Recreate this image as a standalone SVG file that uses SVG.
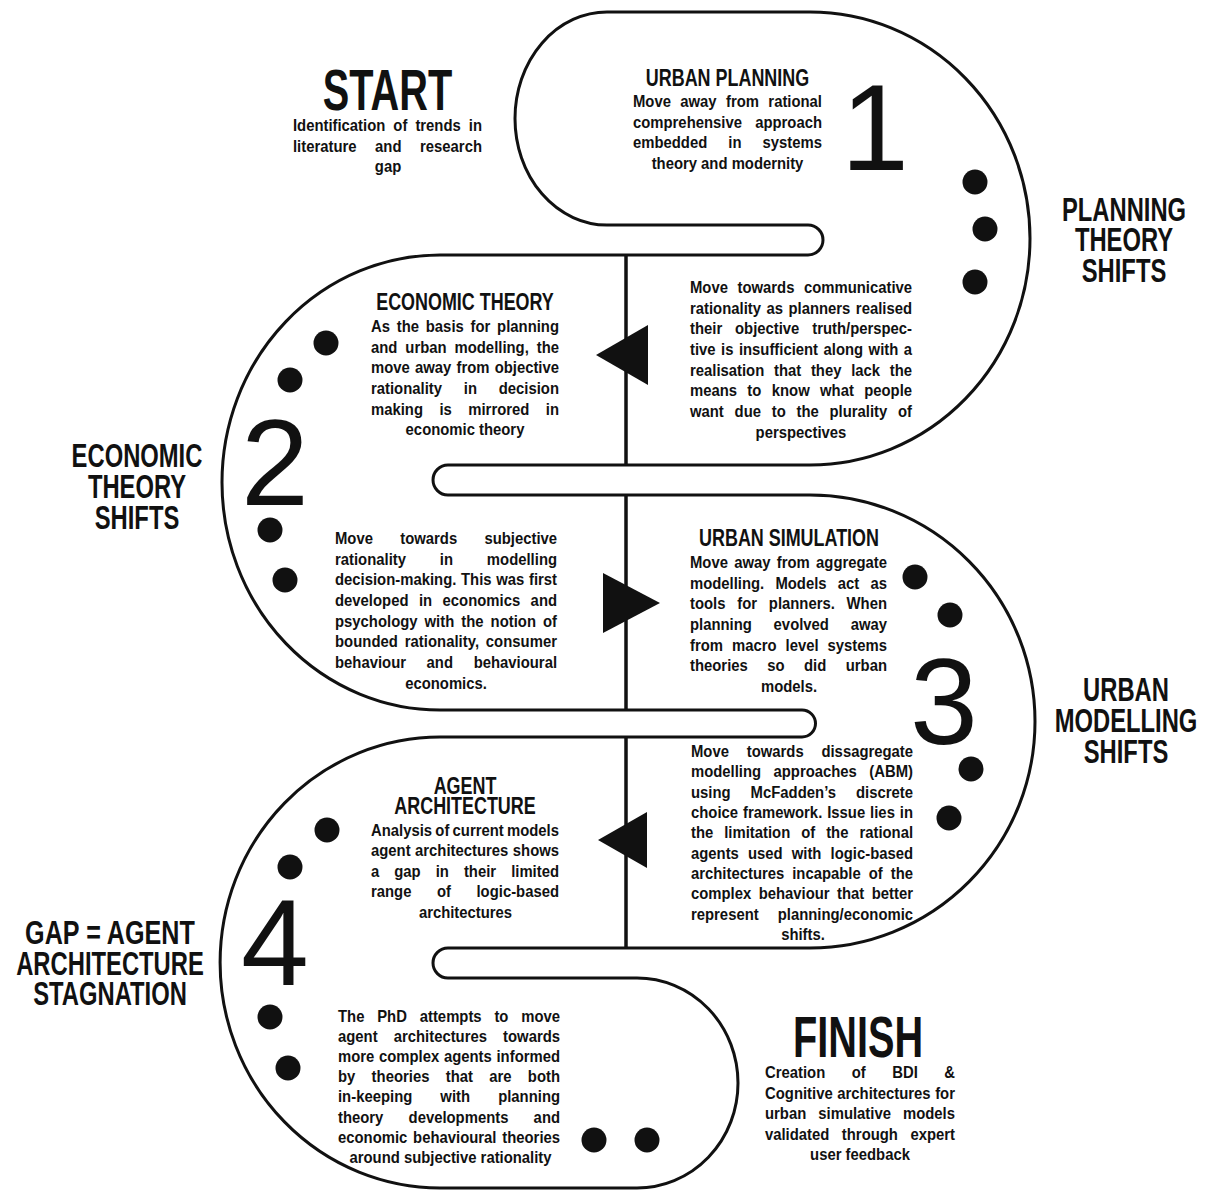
<svg xmlns="http://www.w3.org/2000/svg" width="1207" height="1192" viewBox="0 0 1207 1192">
<style>
text{font-family:"Liberation Sans",Arial,sans-serif;fill:#111;}
.b{font-size:16.5px;font-weight:bold;}
.h{font-size:23px;font-weight:bold;text-anchor:middle;}
.big{font-size:58px;font-weight:bold;text-anchor:middle;}
.lab{font-size:34px;font-weight:bold;text-anchor:middle;}
.num{font-size:122px;font-weight:normal;text-anchor:middle;}
.c{text-anchor:middle;}
.track{fill:none;stroke:#111;stroke-width:3;stroke-linejoin:round;}
.spine{stroke:#111;stroke-width:3.5;fill:none;}
.tri{fill:#111;}
.dot{fill:#111;}
</style>
<rect width="1207" height="1192" fill="#fff"/>
<g id="track">
<path class="track" d="M607,225 L808,225 A15,15 0 0 1 808,255 L440,255 A218,227.5 0 0 0 440,710 L802,710 A13.5,13.5 0 0 1 802,737 L440,737 A220,225.5 0 0 0 440,1188 L637,1188 A101,105 0 0 0 637,978 L448,978 A15,15 0 0 1 448,948 L810,948 A225,226.5 0 0 0 810,495 L448,495 A15,15 0 0 1 448,465 L810,465 A220,226.5 0 0 0 810,12 L607,12 A92,106.5 0 0 0 607,225 Z"/>
</g>
<g id="connectors">
<line class="spine" x1="626" y1="255" x2="626" y2="465"/>
<line class="spine" x1="626" y1="495" x2="626" y2="710"/>
<line class="spine" x1="626" y1="737" x2="626" y2="948"/>
<polygon class="tri" points="596,355 648,325 648,385"/>
<polygon class="tri" points="660,603 603,573 603,633"/>
<polygon class="tri" points="598,840 647,812 647,868"/>
</g>
<g id="start">
<text class="big" transform="translate(387.5 110) scale(.685 1)">START</text>
<text class="b" transform="translate(293 131) scale(.9 1)" textLength="210" lengthAdjust="spacing" word-spacing="4.4">Identification of trends in</text>
<text class="b" transform="translate(293 152) scale(.9 1)" textLength="210" lengthAdjust="spacing" word-spacing="16">literature and research</text>
<text class="b c" transform="translate(388 172) scale(.9 1)">gap</text>
</g>
<g id="urban-planning">
<text class="h" transform="translate(727.5 86) scale(.78 1)">URBAN PLANNING</text>
<text class="b" transform="translate(633 107) scale(.9 1)" textLength="210" lengthAdjust="spacing" word-spacing="5.8">Move away from rational</text>
<text class="b" transform="translate(633 128) scale(.9 1)" textLength="210" lengthAdjust="spacing" word-spacing="10.1">comprehensive approach</text>
<text class="b" transform="translate(633 148) scale(.9 1)" textLength="210" lengthAdjust="spacing" word-spacing="18.8">embedded in systems</text>
<text class="b c" transform="translate(727.5 169) scale(.9 1)">theory and modernity</text>
<text class="num" x="875" y="170" font-size="130">1</text>
<circle class="dot" cx="975" cy="182" r="12.5"/>
<circle class="dot" cx="985" cy="229" r="12.5"/>
<circle class="dot" cx="975" cy="282" r="12.5"/>
</g>
<g id="communicative">
<text class="b" transform="translate(690 293) scale(.9 1)" textLength="246.7" lengthAdjust="spacing" word-spacing="6">Move towards communicative</text>
<text class="b" transform="translate(690 314) scale(.9 1)" textLength="246.7" lengthAdjust="spacing" word-spacing="1.5">rationality as planners realised</text>
<text class="b" transform="translate(690 334) scale(.9 1)" textLength="246.7" lengthAdjust="spacing" word-spacing="9.7">their objective truth/perspec-</text>
<text class="b" transform="translate(690 355) scale(.9 1)" textLength="246.7" lengthAdjust="spacing" word-spacing="1.5">tive is insufficient along with a</text>
<text class="b" transform="translate(690 376) scale(.9 1)" textLength="246.7" lengthAdjust="spacing" word-spacing="6.2">realisation that they lack the</text>
<text class="b" transform="translate(690 396) scale(.9 1)" textLength="246.7" lengthAdjust="spacing" word-spacing="6.9">means to know what people</text>
<text class="b" transform="translate(690 417) scale(.9 1)" textLength="246.7" lengthAdjust="spacing" word-spacing="7.4">want due to the plurality of</text>
<text class="b c" transform="translate(801 438) scale(.9 1)">perspectives</text>
</g>
<g id="planning-theory-shifts">
<text class="lab" transform="translate(1124 221) scale(.7 1)">PLANNING</text>
<text class="lab" transform="translate(1124 251) scale(.7 1)">THEORY</text>
<text class="lab" transform="translate(1124 282) scale(.7 1)">SHIFTS</text>
</g>
<g id="economic-theory">
<text class="h" transform="translate(465 310) scale(.78 1)">ECONOMIC THEORY</text>
<text class="b" transform="translate(371 332) scale(.9 1)" textLength="208.9" lengthAdjust="spacing" word-spacing="2.9">As the basis for planning</text>
<text class="b" transform="translate(371 353) scale(.9 1)" textLength="208.9" lengthAdjust="spacing" word-spacing="4.2">and urban modelling, the</text>
<text class="b" transform="translate(371 373) scale(.9 1)" textLength="208.9" lengthAdjust="spacing" word-spacing="1.2">move away from objective</text>
<text class="b" transform="translate(371 394) scale(.9 1)" textLength="208.9" lengthAdjust="spacing" word-spacing="19.6">rationality in decision</text>
<text class="b" transform="translate(371 415) scale(.9 1)" textLength="208.9" lengthAdjust="spacing" word-spacing="13.7">making is mirrored in</text>
<text class="b c" transform="translate(465 435) scale(.9 1)">economic theory</text>
<circle class="dot" cx="326" cy="343" r="12.5"/>
<circle class="dot" cx="290" cy="380" r="12.5"/>
<text class="num" x="275" y="505">2</text>
<circle class="dot" cx="270" cy="530" r="12.5"/>
<circle class="dot" cx="285" cy="580" r="12.5"/>
</g>
<g id="subjective">
<text class="b" transform="translate(335 544) scale(.9 1)" textLength="246.7" lengthAdjust="spacing" word-spacing="25.7">Move towards subjective</text>
<text class="b" transform="translate(335 565) scale(.9 1)" textLength="246.7" lengthAdjust="spacing" word-spacing="33">rationality in modelling</text>
<text class="b" transform="translate(335 585) scale(.9 1)" textLength="246.7" lengthAdjust="spacing" word-spacing="0.6">decision-making. This was first</text>
<text class="b" transform="translate(335 606) scale(.9 1)" textLength="246.7" lengthAdjust="spacing" word-spacing="7">developed in economics and</text>
<text class="b" transform="translate(335 627) scale(.9 1)" textLength="246.7" lengthAdjust="spacing" word-spacing="3.2">psychology with the notion of</text>
<text class="b" transform="translate(335 647) scale(.9 1)" textLength="246.7" lengthAdjust="spacing" word-spacing="2.8">bounded rationality, consumer</text>
<text class="b" transform="translate(335 668) scale(.9 1)" textLength="246.7" lengthAdjust="spacing" word-spacing="18.3">behaviour and behavioural</text>
<text class="b c" transform="translate(446 689) scale(.9 1)">economics.</text>
</g>
<g id="economic-theory-shifts">
<text class="lab" transform="translate(137 467) scale(.7 1)">ECONOMIC</text>
<text class="lab" transform="translate(137 498) scale(.7 1)">THEORY</text>
<text class="lab" transform="translate(137 529) scale(.7 1)">SHIFTS</text>
</g>
<g id="urban-simulation">
<text class="h" transform="translate(789 546) scale(.78 1)">URBAN SIMULATION</text>
<text class="b" transform="translate(690 568) scale(.9 1)" textLength="218.9" lengthAdjust="spacing" word-spacing="2.4">Move away from aggregate</text>
<text class="b" transform="translate(690 589) scale(.9 1)" textLength="218.9" lengthAdjust="spacing" word-spacing="7.9">modelling. Models act as</text>
<text class="b" transform="translate(690 609) scale(.9 1)" textLength="218.9" lengthAdjust="spacing" word-spacing="8.5">tools for planners. When</text>
<text class="b" transform="translate(690 630) scale(.9 1)" textLength="218.9" lengthAdjust="spacing" word-spacing="19.6">planning evolved away</text>
<text class="b" transform="translate(690 651) scale(.9 1)" textLength="218.9" lengthAdjust="spacing" word-spacing="5.4">from macro level systems</text>
<text class="b" transform="translate(690 671) scale(.9 1)" textLength="218.9" lengthAdjust="spacing" word-spacing="17">theories so did urban</text>
<text class="b c" transform="translate(789 692) scale(.9 1)">models.</text>
<circle class="dot" cx="915" cy="577" r="12.5"/>
<circle class="dot" cx="950" cy="615" r="12.5"/>
<text class="num" x="944" y="744">3</text>
<circle class="dot" cx="971" cy="769" r="12.5"/>
<circle class="dot" cx="949" cy="818" r="12.5"/>
</g>
<g id="disaggregate">
<text class="b" transform="translate(691 757) scale(.9 1)" textLength="246.7" lengthAdjust="spacing" word-spacing="15.2">Move towards dissagregate</text>
<text class="b" transform="translate(691 777) scale(.9 1)" textLength="246.7" lengthAdjust="spacing" word-spacing="9.2">modelling approaches (ABM)</text>
<text class="b" transform="translate(691 798) scale(.9 1)" textLength="246.7" lengthAdjust="spacing" word-spacing="17.5">using McFadden’s discrete</text>
<text class="b" transform="translate(691 818) scale(.9 1)" textLength="246.7" lengthAdjust="spacing" word-spacing="0.9">choice framework. Issue lies in</text>
<text class="b" transform="translate(691 838) scale(.9 1)" textLength="246.7" lengthAdjust="spacing" word-spacing="7.6">the limitation of the rational</text>
<text class="b" transform="translate(691 859) scale(.9 1)" textLength="246.7" lengthAdjust="spacing" word-spacing="5.6">agents used with logic-based</text>
<text class="b" transform="translate(691 879) scale(.9 1)" textLength="246.7" lengthAdjust="spacing" word-spacing="4.3">architectures incapable of the</text>
<text class="b" transform="translate(691 899) scale(.9 1)" textLength="246.7" lengthAdjust="spacing" word-spacing="3.7">complex behaviour that better</text>
<text class="b" transform="translate(691 920) scale(.9 1)" textLength="246.7" lengthAdjust="spacing" word-spacing="16.6">represent planning/economic</text>
<text class="b c" transform="translate(803 940) scale(.9 1)">shifts.</text>
</g>
<g id="urban-modelling-shifts">
<text class="lab" transform="translate(1126 701) scale(.7 1)">URBAN</text>
<text class="lab" transform="translate(1126 732) scale(.7 1)">MODELLING</text>
<text class="lab" transform="translate(1126 763) scale(.7 1)">SHIFTS</text>
</g>
<g id="agent-architecture">
<text class="h" transform="translate(465 794) scale(.78 1)">AGENT</text>
<text class="h" transform="translate(465 814) scale(.78 1)">ARCHITECTURE</text>
<text class="b" transform="translate(371 836) scale(.9 1)" textLength="208.9" lengthAdjust="spacing" word-spacing="-1">Analysis of current models</text>
<text class="b" transform="translate(371 856) scale(.9 1)" textLength="208.9" lengthAdjust="spacing" word-spacing="0.4">agent architectures shows</text>
<text class="b" transform="translate(371 877) scale(.9 1)" textLength="208.9" lengthAdjust="spacing" word-spacing="12.1">a gap in their limited</text>
<text class="b" transform="translate(371 897) scale(.9 1)" textLength="208.9" lengthAdjust="spacing" word-spacing="23.8">range of logic-based</text>
<text class="b c" transform="translate(465.5 918) scale(.9 1)">architectures</text>
<circle class="dot" cx="327" cy="830" r="12.5"/>
<circle class="dot" cx="290" cy="867" r="12.5"/>
<text class="num" x="275" y="985">4</text>
<circle class="dot" cx="270" cy="1017" r="12.5"/>
<circle class="dot" cx="288" cy="1068" r="12.5"/>
</g>
<g id="gap-agent-architecture-stagnation">
<text class="lab" transform="translate(110 944) scale(.74 1)">GAP = AGENT</text>
<text class="lab" transform="translate(110 975) scale(.7 1)">ARCHITECTURE</text>
<text class="lab" transform="translate(110 1005) scale(.7 1)">STAGNATION</text>
</g>
<g id="phd">
<text class="b" transform="translate(338 1022) scale(.9 1)" textLength="246.7" lengthAdjust="spacing" word-spacing="9.6">The PhD attempts to move</text>
<text class="b" transform="translate(338 1042) scale(.9 1)" textLength="246.7" lengthAdjust="spacing" word-spacing="13.3">agent architectures towards</text>
<text class="b" transform="translate(338 1062) scale(.9 1)" textLength="246.7" lengthAdjust="spacing" word-spacing="0.6">more complex agents informed</text>
<text class="b" transform="translate(338 1082) scale(.9 1)" textLength="246.7" lengthAdjust="spacing" word-spacing="13.5">by theories that are both</text>
<text class="b" transform="translate(338 1102) scale(.9 1)" textLength="246.7" lengthAdjust="spacing" word-spacing="26.6">in-keeping with planning</text>
<text class="b" transform="translate(338 1123) scale(.9 1)" textLength="246.7" lengthAdjust="spacing" word-spacing="23.4">theory developments and</text>
<text class="b" transform="translate(338 1143) scale(.9 1)" textLength="246.7" lengthAdjust="spacing" word-spacing="1.8">economic behavioural theories</text>
<text class="b c" transform="translate(450.5 1163) scale(.9 1)">around subjective rationality</text>
<circle class="dot" cx="594" cy="1140" r="12.5"/>
<circle class="dot" cx="647" cy="1140" r="12.5"/>
</g>
<g id="finish">
<text class="big" transform="translate(858 1057) scale(.685 1)">FINISH</text>
<text class="b" transform="translate(765 1078) scale(.9 1)" textLength="211.1" lengthAdjust="spacing" word-spacing="24.8">Creation of BDI &amp;</text>
<text class="b" transform="translate(765 1099) scale(.9 1)" textLength="211.1" lengthAdjust="spacing" word-spacing="0.5">Cognitive architectures for</text>
<text class="b" transform="translate(765 1119) scale(.9 1)" textLength="211.1" lengthAdjust="spacing" word-spacing="8.8">urban simulative models</text>
<text class="b" transform="translate(765 1140) scale(.9 1)" textLength="211.1" lengthAdjust="spacing" word-spacing="9.3">validated through expert</text>
<text class="b c" transform="translate(860 1160) scale(.9 1)">user feedback</text>
</g>
</svg>
